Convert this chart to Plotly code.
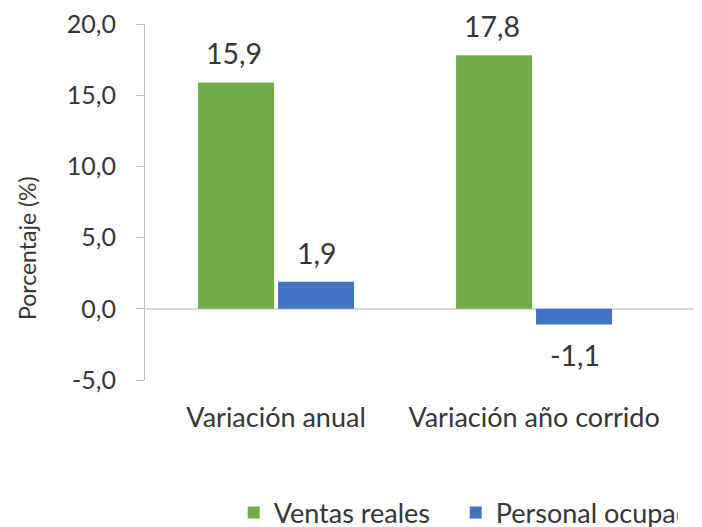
import plotly.graph_objects as go

categories = ["Variación anual", "Variación año corrido"]
ventas_reales = [15.9, 17.8]
personal_ocupado = [1.9, -1.1]
series_names = ["Ventas reales", "Personal ocupado"]
y_ticks = [-5, 0, 5, 10, 15, 20]
y_ticktext = ["-5,0", "0,0", "5,0", "10,0", "15,0", "20,0"]

GREEN = "#70AD47"
BLUE = "#4472C4"
TEXT = "#363636"
FONT = "Lato"

# page body has an 8px margin; layout below compensates for it
L, T, B = 137, 16, 155
PW, PH = 702 - L, 527 - T - B

fig = go.Figure()
fig.add_trace(go.Bar(x=categories, y=ventas_reales, name=series_names[0],
                     marker=dict(color=GREEN, line=dict(width=0))))
fig.add_trace(go.Bar(x=categories, y=personal_ocupado, name=series_names[1],
                     marker=dict(color=BLUE, line=dict(width=0))))

def fmt(v):
    return f"{v:.1f}".replace(".", ",")

for vals, shift in ((ventas_reales, -42), (personal_ocupado, 41)):
    for c, v in zip(categories, vals):
        fig.add_annotation(x=c, y=v, xref="x", yref="y", text=fmt(v), showarrow=False,
                           xshift=shift, yshift=29 if v >= 0 else -31,
                           font=dict(family=FONT, size=28.5, color=TEXT))

fig.add_annotation(text="Porcentaje (%)", textangle=-90, xref="paper", yref="paper",
                   x=(19 - L) / PW, y=(T + PH - 240) / PH, showarrow=False,
                   xanchor="center", yanchor="middle",
                   font=dict(family=FONT, size=23, color=TEXT))

fig.update_layout(
    width=702, height=527,
    margin=dict(l=L, r=0, t=T, b=B, autoexpand=False),
    paper_bgcolor="white", plot_bgcolor="white",
    barmode="group", bargap=0.38, bargroupgap=0.05,
    font=dict(family=FONT, size=23, color=TEXT),
    showlegend=True,
    legend=dict(orientation="h", x=0.157, xanchor="left", y=(T + PH - 505) / PH, yanchor="middle",
                font=dict(family=FONT, size=27, color=TEXT), bgcolor="rgba(0,0,0,0)",
                entrywidth=177, traceorder="normal"),
)
fig.update_xaxes(type="category", range=[-0.508, 1.682], showline=False, showgrid=False,
                 automargin=False, ticks="", ticklabelstandoff=19,
                 tickfont=dict(family=FONT, size=27, color=TEXT))
fig.update_yaxes(range=[-5, 20], tickvals=y_ticks, ticktext=y_ticktext, showgrid=False,
                 automargin=False, ticklabeloverflow="allow",
                 showline=True, linecolor="#BFBFBF", linewidth=1,
                 ticks="outside", ticklen=8, tickcolor="#BFBFBF",
                 zeroline=True, zerolinecolor="#D9D9D9", zerolinewidth=1.5,
                 ticklabelstandoff=15, tickfont=dict(family=FONT, size=25, color=TEXT))

fig.write_html("out.html")
